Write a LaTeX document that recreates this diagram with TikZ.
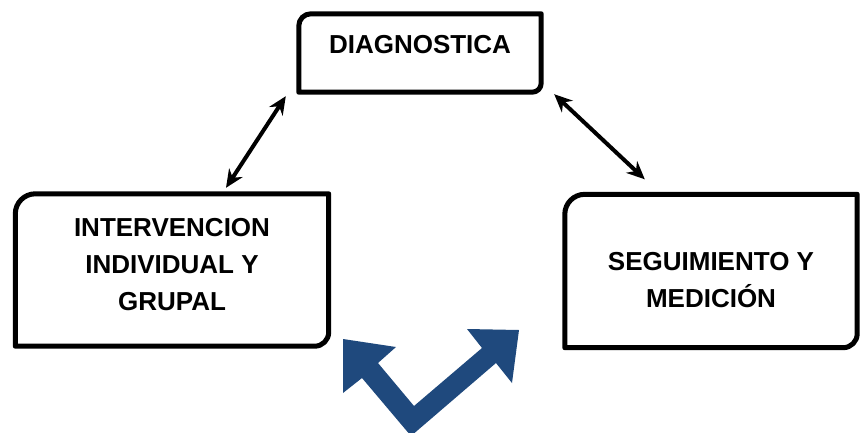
\documentclass[tikz,border=0pt]{standalone}
\usepackage{fontspec}
\setmainfont{Liberation Sans}
\usetikzlibrary{positioning, arrows.meta}
\definecolor{zigblue}{HTML}{1F497D}
\tikzset{
    x=1pt, y=1pt,
    boxnode/.style={draw=none, inner sep=0pt}, % only gives the size, the frame is drawn apart
    boxline/.style={line width=5pt, line join=round},
    boxtext/.style={align=center, font=\fontsize{26}{37}\selectfont\bfseries},
    biarrow/.style={line width=4pt, {Stealth[length=18pt,width=16pt]}-{Stealth[length=18pt,width=16pt]}},
}
% frame with round corner top left (#2) and bottom right (#3)
\newcommand{\cornerframe}[3]{%
    \draw[boxline] (#1.north east) -- ([xshift=#2pt]#1.north west)
        arc[start angle=90, end angle=180, radius=#2pt] -- (#1.south west)
        -- ([xshift=-#3pt]#1.south east)
        arc[start angle=270, end angle=360, radius=#3pt] -- cycle;}

\begin{document}
\begin{tikzpicture}[on grid]
    \clip (0,0) rectangle (860,-432);
    % Cajas
    \node[boxnode, minimum width=242pt, minimum height=78pt] (diag) at (420,-53) {};
    \node[boxnode, minimum width=313pt, minimum height=152pt] (inter) [below left=217pt and 248pt of diag] {};
    \node[boxnode, minimum width=292pt, minimum height=153pt] (seg) [below right=218pt and 291pt of diag] {};
    \cornerframe{diag}{12}{9}
    \cornerframe{inter}{20}{14}
    \cornerframe{seg}{20}{14}

    % Textos
    \node[boxtext] (diagtext) at ([yshift=8pt]diag.center) {DIAGNOSTICA};
    \node[boxtext] (intertext) at ([yshift=5pt]inter.center) {INTERVENCION\\INDIVIDUAL Y\\GRUPAL};
    \node[boxtext] (segtext) at ([yshift=-9pt]seg.center) {SEGUIMIENTO Y\\MEDICIÓN};

    % Flechas
    \draw[biarrow] ([shift={(54,6)}]inter.north) -- ([shift={(-13,-4)}]diag.south west);
    \draw[biarrow] ([shift={(13,-2)}]diag.south east) -- ([shift={(80,15)}]seg.north west);

    % Flecha azul
    \fill[zigblue] (343,-339) -- (396,-347) -- (378,-363) -- (414,-406) -- (482,-348)
        -- (467,-329) -- (519,-330) -- (512,-383) -- (496,-363) -- (411,-436)
        -- (362,-378) -- (343,-393) -- cycle;
\end{tikzpicture}
\end{document}
